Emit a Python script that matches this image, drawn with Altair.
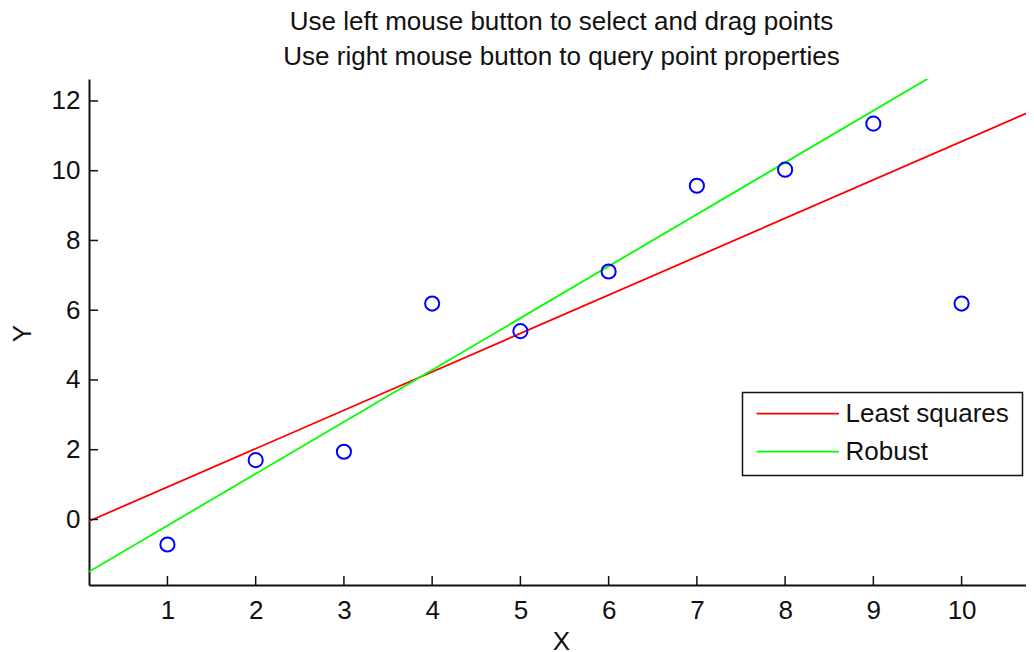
import altair as alt
import pandas as pd

# ---- data ----
X_PTS = [1, 2, 3, 4, 5, 6, 7, 8, 9, 10]
Y_PTS = [-0.72, 1.70, 1.94, 6.19, 5.40, 7.11, 9.57, 10.03, 11.35, 6.19]
SERIES = ["Least squares", "Robust"]
LINE_X = [0.11, 10.82]
LS_Y = [-0.05, 11.74]
ROB_Y = [-1.50, 14.43]
X_TICKS = [1, 2, 3, 4, 5, 6, 7, 8, 9, 10]
Y_TICKS = [0, 2, 4, 6, 8, 10, 12]
X_DOMAIN = [0.111, 10.73]
Y_DOMAIN = [-1.88, 12.63]
TITLE = ["Use left mouse button to select and drag points",
         "Use right mouse button to query point properties"]

# ---- styling ----
W, H = 937, 506
FONT = "Liberation Sans"
FS = 26
COLORS = ["#ff0000", "#00ff00"]
INK = "#111111"

xs = alt.Scale(domain=X_DOMAIN, nice=False, zero=False)
ys = alt.Scale(domain=Y_DOMAIN, nice=False, zero=False)

pts = pd.DataFrame({"x": X_PTS, "y": Y_PTS})
lines = pd.DataFrame({
    "x": LINE_X + LINE_X,
    "y": LS_Y + ROB_Y,
    "series": [SERIES[0]] * len(LINE_X) + [SERIES[1]] * len(LINE_X),
})

axis_common = dict(
    grid=False, tickSize=0, domainColor=INK, domainWidth=2,
    labelFont=FONT, labelFontSize=FS, labelColor=INK,
    titleFont=FONT, titleFontSize=FS, titleColor=INK, titleFontWeight="normal",
)

x_axis = alt.Axis(values=X_TICKS, format="d", labelPadding=12, title="X",
                  titleX=472, titleY=56, titleBaseline="middle", titleAlign="center",
                  **axis_common)
y_axis = alt.Axis(values=Y_TICKS, format="d", labelPadding=9, title="Y",
                  titleAngle=-90, titleX=-67, titleY=254, titleBaseline="middle",
                  titleAlign="center", **axis_common)

line_layer = alt.Chart(lines).mark_line(strokeWidth=1.8, clip=True).encode(
    x=alt.X("x:Q", scale=xs, axis=x_axis),
    y=alt.Y("y:Q", scale=ys, axis=y_axis),
    color=alt.Color("series:N", scale=alt.Scale(domain=SERIES, range=COLORS), legend=None),
    detail="series:N",
)

pt_layer = alt.Chart(pts).mark_point(shape="circle", filled=False, color="#0000ff",
                                     size=200, strokeWidth=2, opacity=1).encode(
    x=alt.X("x:Q", scale=xs, axis=x_axis),
    y=alt.Y("y:Q", scale=ys, axis=y_axis),
)

ytick_layer = alt.Chart(pd.DataFrame({"x": [X_DOMAIN[0]] * len(Y_TICKS), "y": Y_TICKS})).mark_rule(
    color=INK, strokeWidth=1.5).encode(
    y=alt.Y("y:Q", scale=ys, axis=y_axis),
    x=alt.value(0), x2=alt.value(9),
)
xtick_layer = alt.Chart(pd.DataFrame({"x": X_TICKS})).mark_rule(color=INK, strokeWidth=1.5).encode(
    x=alt.X("x:Q", scale=xs, axis=x_axis),
    y=alt.value(H), y2=alt.value(H - 9),
)

# ---- legend box drawn by hand ----
one = pd.DataFrame({"k": [0]})
LEG_L, LEG_R, LEG_T, LEG_B = 653.5, 933.5, 313.5, 396.5
LEG_SX0, LEG_SX1, LEG_TX = 667.5, 750, 756.5
LEG_Y0, LEG_DY = 334.7, 38

legend_layers = [
    alt.Chart(one).mark_rect(fill="white", stroke=INK, strokeWidth=1.5).encode(
        x=alt.value(LEG_L), x2=alt.value(LEG_R), y=alt.value(LEG_T), y2=alt.value(LEG_B))
]
for i, name in enumerate(SERIES):
    yy = LEG_Y0 + i * LEG_DY
    legend_layers.append(
        alt.Chart(one).mark_rule(color=COLORS[i], strokeWidth=1.8).encode(
            x=alt.value(LEG_SX0), x2=alt.value(LEG_SX1), y=alt.value(yy)))
    legend_layers.append(
        alt.Chart(one).mark_text(text=name, font=FONT, fontSize=FS, color=INK,
                                 align="left", baseline="middle").encode(
            x=alt.value(LEG_TX), y=alt.value(yy)))

chart = alt.layer(line_layer, pt_layer, ytick_layer, xtick_layer, *legend_layers).properties(
    width=W, height=H,
    title=alt.TitleParams(text=TITLE, font=FONT, fontSize=FS, fontWeight="normal",
                          color=INK, anchor="middle", frame="group", lineHeight=35,
                          baseline="alphabetic", offset=-12, dx=4),
    autosize=alt.AutoSizeParams(type="none"),
    padding={"left": 81, "top": 71, "right": 0, "bottom": 72},
    background="white",
).configure_view(stroke=None)

chart.save("out.html", embed_options={"renderer": "svg", "actions": False})
